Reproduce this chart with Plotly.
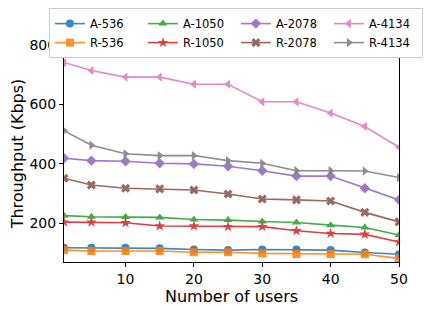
import plotly.graph_objects as go

users = [1, 5, 10, 15, 20, 25, 30, 35, 40, 45, 50]

a_536 = [118, 118, 118, 116, 112, 110, 112, 112, 110, 102, 96]
r_536 = [110, 107, 107, 107, 103, 103, 99, 97, 97, 96, 82]
a_1050 = [226, 222, 221, 220, 213, 211, 206, 203, 194, 186, 161]
r_1050 = [204, 204, 202, 191, 191, 189, 189, 175, 166, 163, 137]
a_2078 = [419, 411, 409, 402, 400, 392, 377, 359, 359, 318, 279]
r_2078 = [352, 329, 318, 316, 312, 299, 282, 279, 275, 237, 205]
a_4134 = [741, 714, 692, 692, 668, 668, 609, 609, 571, 526, 456]
r_4134 = [512, 463, 434, 428, 428, 411, 402, 377, 377, 376, 354]

series = [
    ("A-536", a_536, "#1f77b4", "circle", 1),
    ("R-536", r_536, "#ff7f0e", "square", 5),
    ("A-1050", a_1050, "#2ca02c", "triangle-up", 2),
    ("R-1050", r_1050, "#d62728", "star", 6),
    ("A-2078", a_2078, "#9467bd", "diamond", 3),
    ("R-2078", r_2078, "#8c564b", "x", 7),
    ("A-4134", a_4134, "#e377c2", "triangle-left", 4),
    ("R-4134", r_4134, "#7f7f7f", "triangle-right", 8),
]

fig = go.Figure()
for name, vals, color, sym, rank in series:
    fig.add_trace(go.Scatter(
        x=users, y=vals, name=name, mode="lines+markers",
        line=dict(color=color, width=1.6),
        marker=dict(symbol=sym, size=8, color=color),
        opacity=0.88, legendrank=rank,
    ))

# page body has an 8px margin; figure is sized/offset to compensate
fig.update_layout(
    width=427, height=302,
    margin=dict(l=56, r=36, t=37, b=48, autoexpand=False),
    paper_bgcolor="white", plot_bgcolor="white",
    font=dict(family="DejaVu Sans", size=14, color="black"),
    showlegend=True,
    legend=dict(
        orientation="h", x=-0.045, xanchor="left", y=1.17, yanchor="top",
        entrywidth=48, font=dict(size=11.5),
        bordercolor="#cccccc", borderwidth=1, bgcolor="white",
        itemwidth=30, tracegroupgap=0,
    ),
    xaxis=dict(
        range=[1, 50], tickvals=[10, 20, 30, 40, 50],
        showline=True, linecolor="black", linewidth=1, mirror=True,
        ticks="outside", ticklen=4, tickcolor="black", showgrid=False, zeroline=False,
        title=dict(text="Number of users", font=dict(size=16), standoff=4),
    ),
    yaxis=dict(
        range=[70, 800], tickvals=[200, 400, 600, 800],
        showline=True, linecolor="black", linewidth=1, mirror=True,
        ticks="outside", ticklen=4, tickcolor="black", showgrid=False, zeroline=False,
        title=dict(text="Throughput (Kbps)", font=dict(size=16), standoff=9),
    ),
)

fig.write_html("out.html")
